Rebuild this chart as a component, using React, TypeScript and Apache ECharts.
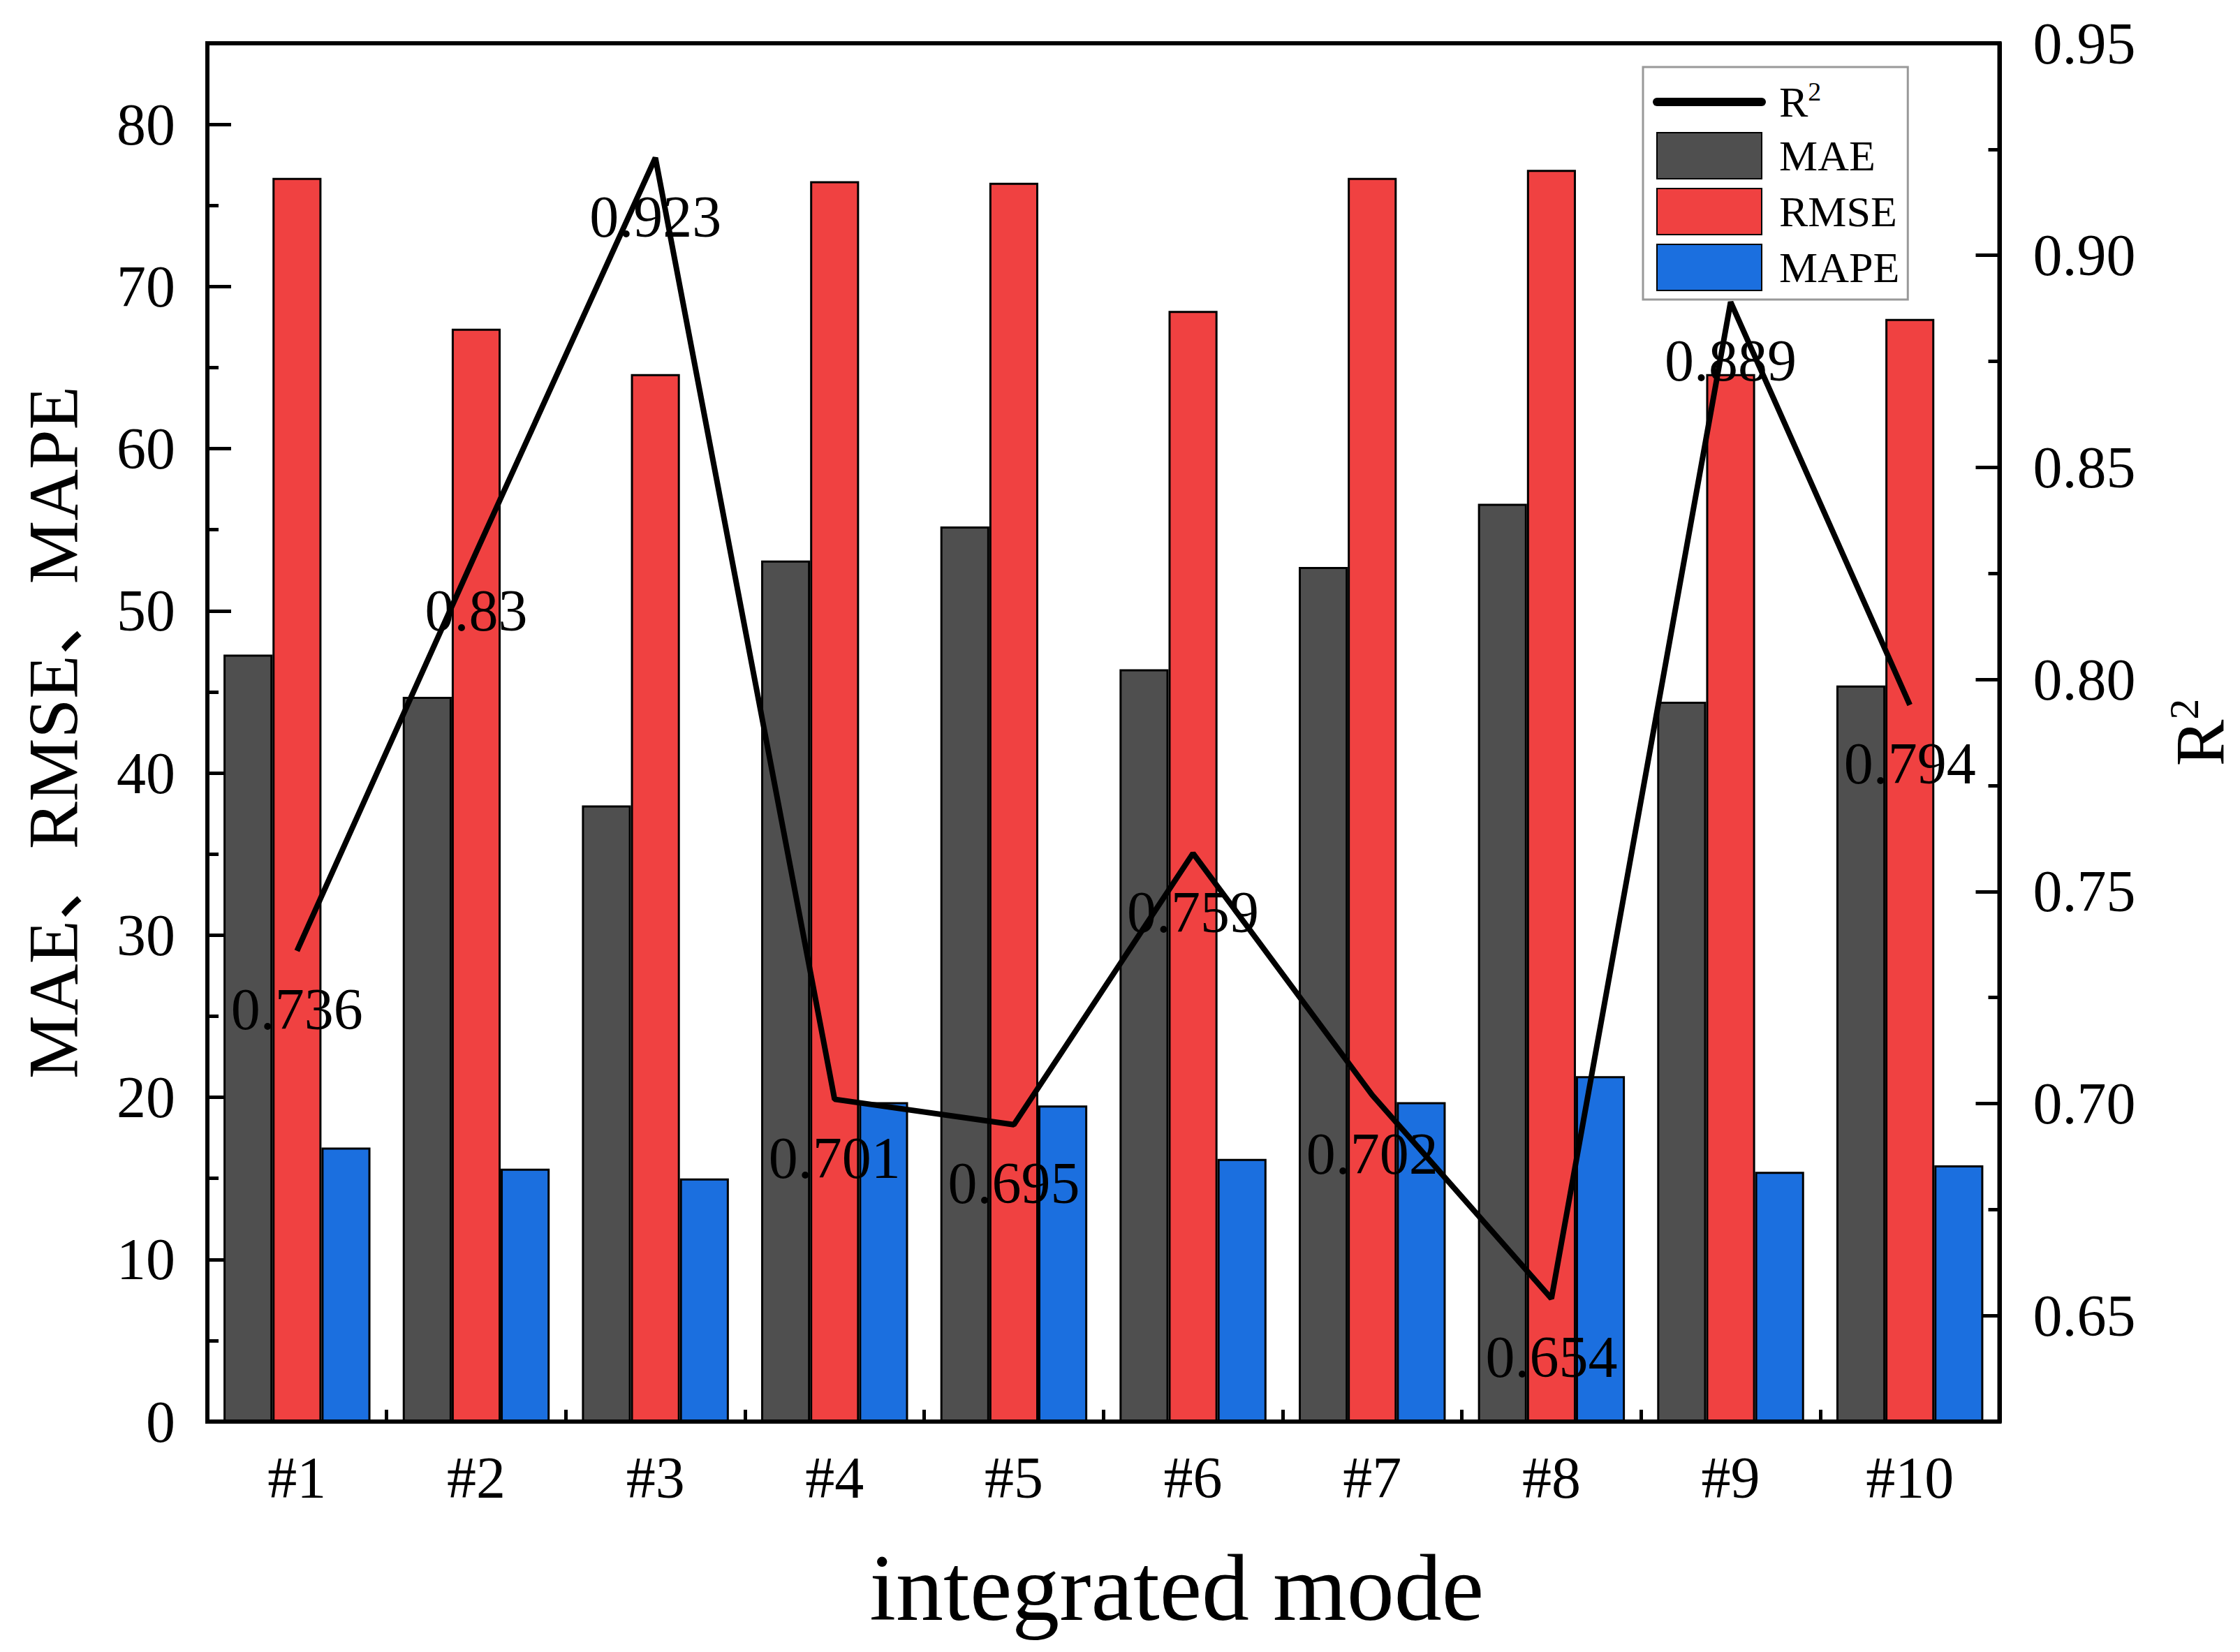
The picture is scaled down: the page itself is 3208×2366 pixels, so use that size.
import { useEffect, useRef } from 'react';
import * as echarts from 'echarts';

const categories = ['#1', '#2', '#3', '#4', '#5', '#6', '#7', '#8', '#9', '#10'];
const maeValues = [47.3, 44.7, 38.0, 53.1, 55.2, 46.4, 52.7, 56.6, 44.4, 45.4];
const rmseValues = [76.7, 67.4, 64.6, 76.5, 76.4, 68.5, 76.7, 77.2, 64.6, 68.0];
const mapeValues = [16.9, 15.6, 15.0, 19.7, 19.5, 16.2, 19.7, 21.3, 15.4, 15.8];
const r2Values = [0.736, 0.83, 0.923, 0.701, 0.695, 0.759, 0.702, 0.654, 0.889, 0.794];
const r2Ticks = [0.65, 0.7, 0.75, 0.8, 0.85, 0.9, 0.95];

const FONT = '"Liberation Serif", "Times New Roman", "Noto Sans CJK SC", serif';

export default function App() {
  const chartRef = useRef<HTMLDivElement>(null);

  useEffect(() => {
    document.body.style.margin = '0';
    if (!chartRef.current) return;
    const chart = echarts.init(chartRef.current, undefined, { renderer: 'svg' });

    const barStyle = (color: string) => ({
      color,
      borderColor: '#000',
      borderWidth: 3,
    });

    const option: echarts.EChartsOption = {
      animation: false,
      backgroundColor: '#fff',
      textStyle: { fontFamily: FONT, color: '#000' },
      grid: {
        left: 297,
        right: 318,
        top: 62,
        bottom: 330,
        show: true,
        borderColor: '#000',
        borderWidth: 6,
        backgroundColor: 'transparent',
      },
      legend: {
        orient: 'vertical',
        left: 2353,
        top: 96,
        padding: [16, 12, 12, 14],
        itemWidth: 150,
        itemHeight: 66,
        itemGap: 12,
        backgroundColor: '#fff',
        borderColor: '#999',
        borderWidth: 3,
        borderRadius: 0,
        data: [
          { name: 'R2', itemStyle: { opacity: 0 }, lineStyle: { width: 12, cap: 'round' } } as any,
          { name: 'MAE', icon: 'rect' },
          { name: 'RMSE', icon: 'rect' },
          { name: 'MAPE', icon: 'rect' },
        ],
        formatter: (name: string) => (name === 'R2' ? '{r|R}{s|2}' : name),
        textStyle: {
          fontFamily: FONT,
          fontSize: 62,
          color: '#000',
          padding: [0, 0, 0, 20],
          rich: {
            r: { fontFamily: FONT, fontSize: 62, color: '#000' },
            s: { fontFamily: FONT, fontSize: 38, color: '#000', verticalAlign: 'top', padding: [0, 0, 30, 0] },
          },
        },
      },
      xAxis: [
        {
          type: 'category',
          data: categories,
          boundaryGap: true,
          name: 'integrated mode',
          nameLocation: 'middle',
          nameGap: 170,
          nameTextStyle: { fontFamily: FONT, fontSize: 136, color: '#000', padding: [0, 0, 0, 210] },
          axisLine: { show: true, lineStyle: { color: '#000', width: 6 } },
          axisTick: { show: true, inside: true, alignWithLabel: true, length: 36, lineStyle: { color: '#000', width: 5 } },
          axisLabel: { fontFamily: FONT, fontSize: 84, color: '#000', margin: 38 },
          splitLine: { show: false },
        },
        {
          type: 'category',
          data: categories,
          boundaryGap: true,
          position: 'bottom',
          axisLine: { show: false },
          axisTick: { show: true, inside: true, alignWithLabel: false, length: 17, lineStyle: { color: '#000', width: 5 } },
          axisLabel: { show: false },
          splitLine: { show: false },
        },
      ],
      yAxis: [
        {
          type: 'value',
          position: 'left',
          min: 0,
          max: 85,
          interval: 10,
          name: 'MAE、RMSE、MAPE',
          nameLocation: 'middle',
          nameRotate: 90,
          nameGap: 170,
          nameTextStyle: { fontFamily: FONT, fontSize: 102, color: '#000' },
          axisLine: { show: true, lineStyle: { color: '#000', width: 6 } },
          axisTick: { show: true, inside: true, length: 34, lineStyle: { color: '#000', width: 5 } },
          axisLabel: {
            fontFamily: FONT,
            fontSize: 84,
            color: '#000',
            margin: 46,
            formatter: (v: number) => (v % 10 === 0 ? String(v) : ''),
          },
          splitLine: { show: false },
        },
        {
          type: 'value',
          position: 'left',
          min: 0,
          max: 85,
          interval: 5,
          axisLine: { show: false },
          axisTick: { show: true, inside: true, length: 16, lineStyle: { color: '#000', width: 5 } },
          axisLabel: { show: false },
          splitLine: { show: false },
        },
        {
          type: 'value',
          position: 'right',
          min: 0.625,
          max: 0.95,
          interval: 0.025,
          axisLine: { show: true, lineStyle: { color: '#000', width: 6 } },
          axisTick: { show: true, inside: true, length: 16, lineStyle: { color: '#000', width: 5 } },
          axisLabel: { show: false },
          splitLine: { show: false },
        },
        {
          type: 'value',
          position: 'right',
          min: 0.625,
          max: 0.95,
          name: '{r|R}{s|2}',
          nameLocation: 'middle',
          nameRotate: 90,
          nameGap: 234,
          nameTextStyle: {
            fontFamily: FONT,
            fontSize: 100,
            color: '#000',
            rich: {
              r: { fontFamily: FONT, fontSize: 100, color: '#000' },
              s: { fontFamily: FONT, fontSize: 60, color: '#000', verticalAlign: 'top', padding: [0, 0, 45, 0] },
            },
          },
          axisLine: { show: false },
          axisTick: {
            show: true,
            inside: true,
            length: 34,
            customValues: r2Ticks,
            lineStyle: { color: '#000', width: 5 },
          },
          axisLabel: {
            fontFamily: FONT,
            fontSize: 84,
            color: '#000',
            margin: 48,
            customValues: r2Ticks,
            formatter: (v: number) => v.toFixed(2),
          },
          splitLine: { show: false },
        } as any,
      ],
      series: [
        {
          name: 'MAE',
          type: 'bar',
          xAxisIndex: 0,
          yAxisIndex: 0,
          data: maeValues,
          barGap: '0%',
          barCategoryGap: '18%',
          itemStyle: barStyle('#4f4f4f'),
        },
        {
          name: 'RMSE',
          type: 'bar',
          xAxisIndex: 0,
          yAxisIndex: 0,
          data: rmseValues,
          barGap: '0%',
          barCategoryGap: '18%',
          itemStyle: barStyle('#f04141'),
        },
        {
          name: 'MAPE',
          type: 'bar',
          xAxisIndex: 0,
          yAxisIndex: 0,
          data: mapeValues,
          barGap: '0%',
          barCategoryGap: '18%',
          itemStyle: barStyle('#1b6fdf'),
        },
        {
          name: 'R2',
          type: 'line',
          xAxisIndex: 0,
          yAxisIndex: 3,
          data: r2Values,
          symbol: 'none',
          z: 5,
          lineStyle: { color: '#000', width: 8 },
          itemStyle: { color: '#000' },
        },
        {
          name: 'R2 labels',
          type: 'scatter',
          xAxisIndex: 0,
          yAxisIndex: 3,
          data: r2Values,
          symbolSize: 0,
          z: 6,
          itemStyle: { color: '#000', opacity: 1 },
          label: {
            show: true,
            position: 'bottom',
            distance: 42,
            fontFamily: FONT,
            fontSize: 84,
            color: '#000',
            opacity: 1,
            formatter: (p: any) => String(p.value),
          },
        },
      ],
    };

    chart.setOption(option);
    return () => {
      chart.dispose();
    };
  }, []);

  return <div ref={chartRef} style={{ width: 3208, height: 2366 }} />;
}
